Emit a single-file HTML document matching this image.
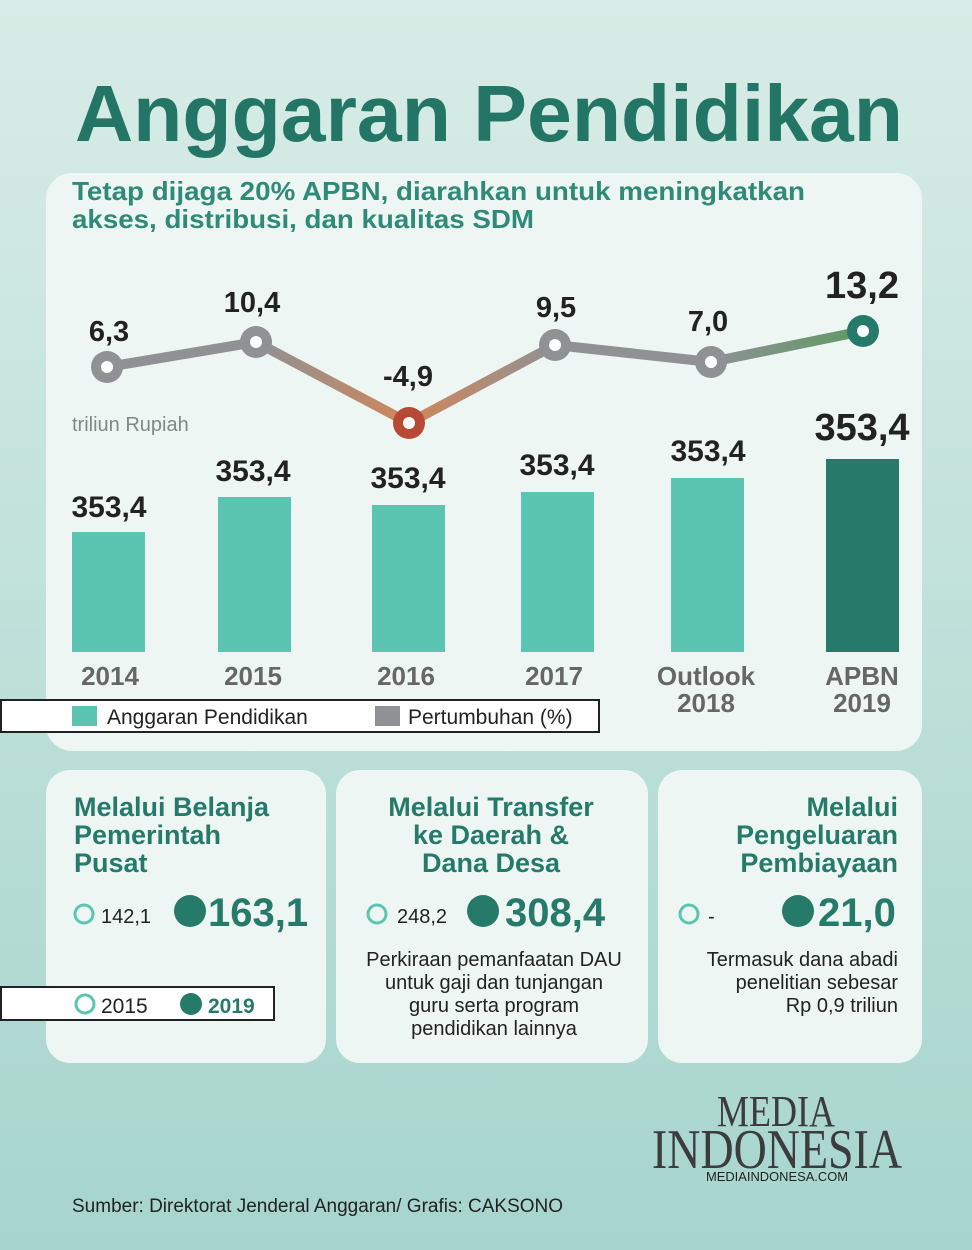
<!DOCTYPE html>
<html><head><meta charset="utf-8"><style>
html,body{margin:0;padding:0;width:972px;height:1250px;overflow:hidden}
svg{display:block}
text{font-family:"Liberation Sans",sans-serif}
</style></head><body>
<svg width="972" height="1250" viewBox="0 0 972 1250" xmlns="http://www.w3.org/2000/svg">
<defs>
<linearGradient id="bg" x1="0" y1="0" x2="0" y2="1">
<stop offset="0" stop-color="#d9ece7"/><stop offset="1" stop-color="#a6d5cd"/></linearGradient>
<linearGradient id="g1" x1="256" y1="0" x2="409" y2="0" gradientUnits="userSpaceOnUse">
<stop offset="0" stop-color="#8f9194"/><stop offset="1" stop-color="#d0875a"/></linearGradient>
<linearGradient id="g2" x1="409" y1="0" x2="555" y2="0" gradientUnits="userSpaceOnUse">
<stop offset="0" stop-color="#d0875a"/><stop offset="1" stop-color="#8f9194"/></linearGradient>
<linearGradient id="g3" x1="711" y1="0" x2="863" y2="0" gradientUnits="userSpaceOnUse">
<stop offset="0" stop-color="#8f9194"/><stop offset="1" stop-color="#5e9a63"/></linearGradient>
</defs>
<rect width="972" height="1250" fill="url(#bg)"/>
<text x="75" y="141" font-size="80" font-weight="bold" fill="#237565" textLength="828" lengthAdjust="spacingAndGlyphs">Anggaran Pendidikan</text>
<rect x="46" y="173" width="876" height="578" rx="26" fill="#eef6f4"/>
<text x="72" y="200" font-size="26" font-weight="bold" fill="#2f8a78" textLength="733" lengthAdjust="spacingAndGlyphs">Tetap dijaga 20% APBN, diarahkan untuk meningkatkan</text>
<text x="72" y="228" font-size="26" font-weight="bold" fill="#2f8a78" textLength="462" lengthAdjust="spacingAndGlyphs">akses, distribusi, dan kualitas SDM</text>
<g stroke-width="10" stroke-linecap="round" fill="none">
<line x1="107" y1="367" x2="256" y2="342" stroke="#8f9194"/>
<line x1="256" y1="342" x2="409" y2="423" stroke="url(#g1)"/>
<line x1="409" y1="423" x2="555" y2="345" stroke="url(#g2)"/>
<line x1="555" y1="345" x2="711" y2="362" stroke="#8f9194"/>
<line x1="711" y1="362" x2="863" y2="331" stroke="url(#g3)"/>
</g>
<g>
<circle cx="107" cy="367" r="16" fill="#8f9194"/><circle cx="107" cy="367" r="6" fill="#fff"/>
<circle cx="256" cy="342" r="16" fill="#8f9194"/><circle cx="256" cy="342" r="6" fill="#fff"/>
<circle cx="409" cy="423" r="16" fill="#b84a35"/><circle cx="409" cy="423" r="6" fill="#fff"/>
<circle cx="555" cy="345" r="16" fill="#8f9194"/><circle cx="555" cy="345" r="6" fill="#fff"/>
<circle cx="711" cy="362" r="16" fill="#8f9194"/><circle cx="711" cy="362" r="6" fill="#fff"/>
<circle cx="863" cy="331" r="16" fill="#267a6a"/><circle cx="863" cy="331" r="6" fill="#fff"/>
</g>
<g font-size="29" font-weight="bold" fill="#222" text-anchor="middle">
<text x="109" y="341">6,3</text>
<text x="252" y="312">10,4</text>
<text x="408" y="386">-4,9</text>
<text x="556" y="317">9,5</text>
<text x="708" y="331">7,0</text>
<text x="862" y="298" font-size="38">13,2</text>
</g>
<text x="72" y="431" font-size="20" fill="#7d8a87">triliun Rupiah</text>
<g fill="#5cc5b2">
<rect x="72" y="532" width="73" height="120"/>
<rect x="218" y="497" width="73" height="155"/>
<rect x="372" y="505" width="73" height="147"/>
<rect x="521" y="492" width="73" height="160"/>
<rect x="671" y="478" width="73" height="174"/>
</g>
<rect x="826" y="459" width="73" height="193" fill="#267a6a"/>
<g font-size="30" font-weight="bold" fill="#222" text-anchor="middle">
<text x="109" y="517">353,4</text>
<text x="253" y="481">353,4</text>
<text x="408" y="488">353,4</text>
<text x="557" y="475">353,4</text>
<text x="708" y="461">353,4</text>
<text x="862" y="440" font-size="38">353,4</text>
</g>
<g font-size="26" font-weight="bold" fill="#666" text-anchor="middle">
<text x="110" y="685">2014</text>
<text x="253" y="685">2015</text>
<text x="406" y="685">2016</text>
<text x="554" y="685">2017</text>
<text x="706" y="685">Outlook</text>
<text x="706" y="712">2018</text>
<text x="862" y="685">APBN</text>
<text x="862" y="712">2019</text>
</g>
<rect x="1" y="700" width="598" height="32" fill="#fff" stroke="#222" stroke-width="2"/>
<rect x="72" y="706" width="25" height="20" fill="#5cc5b2"/>
<text x="107" y="724" font-size="21" fill="#222">Anggaran Pendidikan</text>
<rect x="375" y="706" width="25" height="20" fill="#8f9194"/>
<text x="408" y="724" font-size="21" fill="#222">Pertumbuhan (%)</text>
<rect x="46" y="770" width="280" height="293" rx="24" fill="#eef6f4"/>
<rect x="336" y="770" width="312" height="293" rx="24" fill="#eef6f4"/>
<rect x="658" y="770" width="264" height="293" rx="24" fill="#eef6f4"/>
<g font-size="27" font-weight="bold" fill="#267a6a">
<text x="74" y="816">Melalui Belanja</text>
<text x="74" y="844">Pemerintah</text>
<text x="74" y="872">Pusat</text>
<g text-anchor="middle">
<text x="491" y="816">Melalui Transfer</text>
<text x="491" y="844">ke Daerah &amp;</text>
<text x="491" y="872">Dana Desa</text>
</g>
<g text-anchor="end">
<text x="898" y="816">Melalui</text>
<text x="898" y="844">Pengeluaran</text>
<text x="898" y="872">Pembiayaan</text>
</g>
</g>
<rect x="1" y="987" width="273" height="33" fill="#fff" stroke="#222" stroke-width="2"/>
<text x="101" y="1013" font-size="21" fill="#222">2015</text>
<text x="208" y="1013" font-size="21" font-weight="bold" fill="#267a6a">2019</text>
<g fill="none" stroke="#5cc5b2" stroke-width="3">
<circle cx="84" cy="914" r="9"/><circle cx="377" cy="914" r="9"/><circle cx="689" cy="914" r="9"/>
<circle cx="85" cy="1004" r="9"/>
</g>
<g fill="#267a6a">
<circle cx="190" cy="911" r="16"/><circle cx="483" cy="911" r="16"/><circle cx="798" cy="911" r="16"/>
<circle cx="191" cy="1004" r="11"/>
</g>
<g font-size="20" fill="#222">
<text x="101" y="923">142,1</text>
<text x="397" y="923">248,2</text>
<text x="708" y="923">-</text>
</g>
<g font-size="40" font-weight="bold" fill="#267a6a">
<text x="208" y="926">163,1</text>
<text x="505" y="926">308,4</text>
<text x="818" y="926">21,0</text>
</g>
<g font-size="20" fill="#222" text-anchor="middle">
<text x="494" y="966">Perkiraan pemanfaatan DAU</text>
<text x="494" y="989">untuk gaji dan tunjangan</text>
<text x="494" y="1012">guru serta program</text>
<text x="494" y="1035">pendidikan lainnya</text>
</g>
<g font-size="20" fill="#222" text-anchor="end">
<text x="898" y="966">Termasuk dana abadi</text>
<text x="898" y="989">penelitian sebesar</text>
<text x="898" y="1012">Rp 0,9 triliun</text>
</g>
<g fill="#3c3c3e">
<text x="717" y="1126" font-size="44" textLength="118" lengthAdjust="spacingAndGlyphs" style="font-family:'Liberation Serif',serif">MEDIA</text>
<text x="652" y="1168" font-size="56" textLength="250" lengthAdjust="spacingAndGlyphs" style="font-family:'Liberation Serif',serif">INDONESIA</text>
</g>
<text x="706" y="1181" font-size="13" fill="#222" textLength="142" lengthAdjust="spacingAndGlyphs">MEDIAINDONESA.COM</text>
<text x="72" y="1212" font-size="19" fill="#222">Sumber: Direktorat Jenderal Anggaran/ Grafis: CAKSONO</text>
</svg>
</body></html>
